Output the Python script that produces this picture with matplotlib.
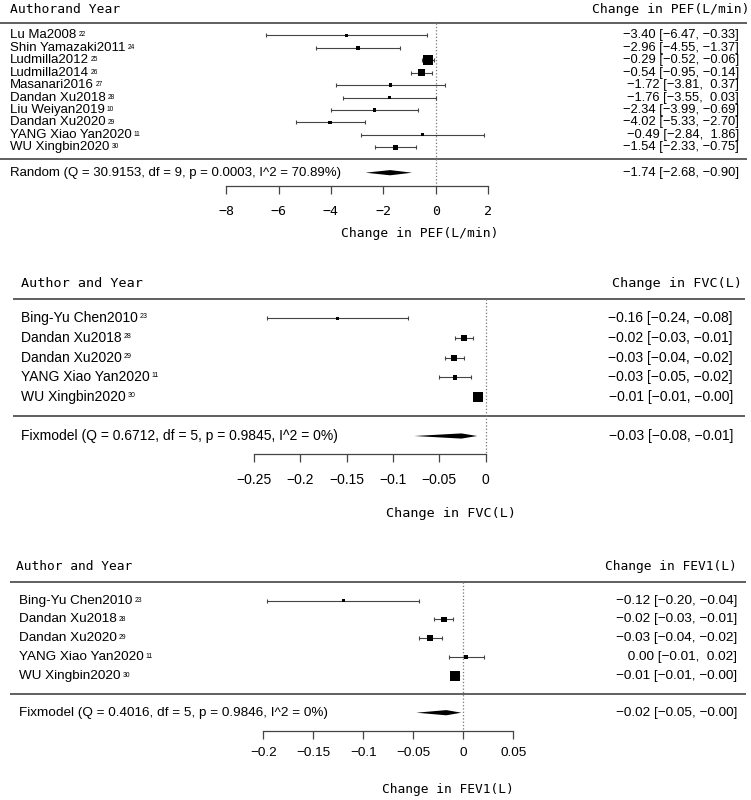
import numpy as np
import matplotlib.pyplot as plt

W, H = 751, 800

# =========================
# data: PEF
# =========================
pef_study = ["Lu Ma2008", "Shin Yamazaki2011", "Ludmilla2012", "Ludmilla2014", "Masanari2016",
             "Dandan Xu2018", "Liu Weiyan2019", "Dandan Xu2020", "YANG Xiao Yan2020", "WU Xingbin2020"]
pef_ref = ["22", "24", "25", "26", "27", "28", "10", "29", "11", "30"]
pef_est = [-3.40, -2.96, -0.29, -0.54, -1.72, -1.76, -2.34, -4.02, -0.49, -1.54]
pef_lo = [-6.47, -4.55, -0.52, -0.95, -3.81, -3.55, -3.99, -5.33, -2.84, -2.33]
pef_hi = [-0.33, -1.37, -0.06, -0.14, 0.37, 0.03, -0.69, -2.70, 1.86, -0.75]
pef_w = [7.2, 8.5, 21.7, 14.1, 7.4, 7.8, 7.6, 8.7, 6.7, 10.3]
pef_pooled = (-1.74, -2.68, -0.90)
pef_ticks = [-8, -6, -4, -2, 0, 2]
pef_summary = "Random (Q = 30.9153, df = 9, p = 0.0003, I^2 = 70.89%)"

# =========================
# data: FVC
# =========================
fvc_study = ["Bing-Yu Chen2010", "Dandan Xu2018", "Dandan Xu2020", "YANG Xiao Yan2020", "WU Xingbin2020"]
fvc_ref = ["23", "28", "29", "11", "30"]
fvc_est = [-0.160, -0.023, -0.034, -0.033, -0.008]
fvc_lo = [-0.236, -0.033, -0.044, -0.050, -0.012]
fvc_hi = [-0.084, -0.014, -0.023, -0.016, -0.004]
fvc_w = [8.6, 22.3, 20.5, 15.4, 33.2]
fvc_pooled = (-0.026, -0.077, -0.009)
fvc_ticks = [-0.25, -0.2, -0.15, -0.1, -0.05, 0]
fvc_summary = "Fixmodel (Q = 0.6712, df = 5, p = 0.9845, I^2 = 0%)"

# =========================
# data: FEV1
# =========================
fev_study = ["Bing-Yu Chen2010", "Dandan Xu2018", "Dandan Xu2020", "YANG Xiao Yan2020", "WU Xingbin2020"]
fev_ref = ["23", "28", "29", "11", "30"]
fev_est = [-0.120, -0.019, -0.033, 0.003, -0.008]
fev_lo = [-0.196, -0.029, -0.044, -0.014, -0.0095]
fev_hi = [-0.044, -0.010, -0.021, 0.021, -0.004]
fev_w = [9.0, 20.4, 20.4, 15.4, 34.8]
fev_pooled = (-0.017, -0.047, -0.002)
fev_ticks = [-0.2, -0.15, -0.1, -0.05, 0, 0.05]
fev_summary = "Fixmodel (Q = 0.4016, df = 5, p = 0.9846, I^2 = 0%)"

plt.rcParams['font.family'] = ['Liberation Sans', 'DejaVu Sans']
MONO = 'DejaVu Sans Mono'
LINE = '#444444'

fig = plt.figure(figsize=(W / 100, H / 100), dpi=100)


def fmt(e, l, h):
    return f"{e:5.2f} [{l:5.2f}, {h:5.2f}]".replace('-', '\u2212')


def forest(L, study, ref, est, lo, hi, wts, pooled, ticks, summary, head_l, head_r, xlab):
    est, lo, hi, wts = map(np.asarray, (est, lo, hi, wts))
    ax = fig.add_axes([0, 1 - L['axis'] / H, 1, (L['axis'] - L['top']) / H])
    ax.set_xlim(-L['zero'] / L['scale'], (W - L['zero']) / L['scale'])

    def yr(py):
        return (py - L['row0']) / L['step']

    ax.set_ylim(yr(L['axis']), yr(L['top']))
    tr = ax.get_yaxis_transform()
    fs = L['fs']

    # headers
    ax.text(L['headL'] / W, yr(L['head']), head_l, transform=tr, family=MONO,
            fontsize=L['hfs'], ha='left', va='center')
    ax.text(L['headR'] / W, yr(L['head']), head_r, transform=tr, family=MONO,
            fontsize=L['hfs'], ha='right', va='center')
    for py in (L['hline'], L['sep']):
        ax.plot([L['lx0'] / W, L['lx1'] / W], [yr(py)] * 2, transform=tr,
                color=LINE, lw=1.2, solid_capstyle='butt')

    # zero reference line
    ax.vlines(0, yr(L['hline']), yr(L['axis']), colors='#777777', linestyles=':', lw=0.9)

    # studies
    rows = np.arange(len(study))
    ax.errorbar(est, rows, xerr=[est - lo, hi - est], fmt='none', ecolor=LINE,
                elinewidth=0.8, capsize=1.6, capthick=0.8)
    side = wts / wts.max() * 7.0
    ax.scatter(est, rows, marker='s', s=side ** 2, c='black', linewidths=0, zorder=3)

    for i, name in enumerate(study):
        t = ax.text(L['lab'] / W, i, name, transform=tr, fontsize=fs, ha='left', va='center')
        ax.annotate(ref[i], xy=(1, 1), xycoords=t, xytext=(1.5, -1.5),
                    textcoords='offset points', fontsize=fs * 0.5, ha='left', va='top')
        ax.text(L['val'] / W, i, fmt(est[i], lo[i], hi[i]), transform=tr,
                fontsize=L['vfs'], ha='right', va='center')

    # pooled estimate
    ys = yr(L['sum'])
    e, l, h = pooled
    dh = 2.6 / L['step']
    ax.fill([l, e, h, e], [ys, ys - dh, ys, ys + dh], color='black', lw=0)
    ax.text(L['lab'] / W, ys, summary, transform=tr, fontsize=fs, ha='left', va='center')
    ax.text(L['val'] / W, ys, fmt(e, l, h), transform=tr, fontsize=L['vfs'],
            ha='right', va='center')

    # x axis
    for s in ('left', 'right', 'top'):
        ax.spines[s].set_visible(False)
    ax.spines['bottom'].set_bounds(ticks[0], ticks[-1])
    ax.spines['bottom'].set_color(LINE)
    ax.spines['bottom'].set_linewidth(0.9)
    ax.set_yticks([])
    ax.set_xticks(ticks)
    ax.set_xticklabels([f"{t:g}".replace('-', '\u2212') for t in ticks])
    ax.tick_params(axis='x', direction='out', length=5.8, width=0.9, color=LINE,
                   pad=L['pad'], labelsize=L['tfs'])
    if L['tmono']:
        for lbl in ax.get_xticklabels():
            lbl.set_fontfamily(MONO)
    ax.text(L['xlx'] / W, yr(L['xly']), xlab, transform=tr, family=MONO,
            fontsize=L['hfs'], ha='center', va='center')
    ax.patch.set_visible(False)
    return ax


P1 = dict(top=0, axis=185.7, row0=35.3, step=12.45, zero=435.7, scale=26.2,
          head=9.5, headL=10, headR=749, hline=22.7, sep=159.3, lx0=0, lx1=747,
          sum=172.7, lab=10, val=739, xlx=420, xly=233, fs=9.5, vfs=9.3, hfs=9.4,
          tfs=9.5, pad=8, tmono=True)
P2 = dict(top=262, axis=454, row0=318.3, step=19.68, zero=485.5, scale=926,
          head=283.3, headL=21, headR=742, hline=299.3, sep=416.3, lx0=13, lx1=745,
          sum=436, lab=21, val=733, xlx=451, xly=513, fs=10, vfs=10, hfs=9.7,
          tfs=10, pad=8, tmono=False)
P3 = dict(top=545, axis=730.5, row0=600.7, step=18.75, zero=463.3, scale=1000,
          head=566.7, headL=15.5, headR=737, hline=582, sep=694, lx0=10, lx1=746,
          sum=712.7, lab=19, val=737, xlx=448, xly=790, fs=9.7, vfs=9.7, hfs=9.3,
          tfs=9.7, pad=6, tmono=False)

forest(P1, pef_study, pef_ref, pef_est, pef_lo, pef_hi, pef_w, pef_pooled, pef_ticks,
       pef_summary, "Authorand Year", "Change in PEF(L/min)", "Change in PEF(L/min)")
forest(P2, fvc_study, fvc_ref, fvc_est, fvc_lo, fvc_hi, fvc_w, fvc_pooled, fvc_ticks,
       fvc_summary, "Author and Year", "Change in FVC(L)", "Change in FVC(L)")
forest(P3, fev_study, fev_ref, fev_est, fev_lo, fev_hi, fev_w, fev_pooled, fev_ticks,
       fev_summary, "Author and Year", "Change in FEV1(L)", "Change in FEV1(L)")

fig.savefig("out.png", dpi=100, facecolor='white')
